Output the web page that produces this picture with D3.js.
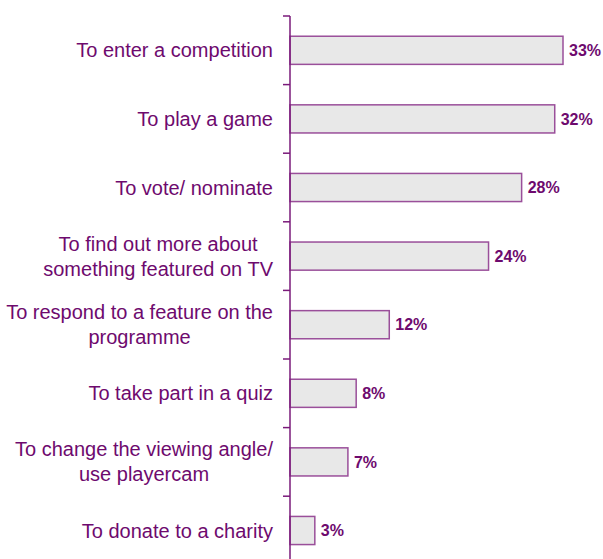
<!DOCTYPE html>
<html>
<head>
<meta charset="utf-8">
<script src="https://cdn.jsdelivr.net/npm/d3@7"></script>
<style>
  body { margin: 0; background: #fff; }
  text { font-family: "Liberation Sans", Arial, sans-serif; }
</style>
</head>
<body>
<svg id="chart"></svg>
<script>
var width = 603;
var height = 559;
var purple = "#6e0a6e";

var categories = [
    ["To enter a competition"],
    ["To play a game"],
    ["To vote/ nominate"],
    ["To find out more about", "something featured on TV"],
    ["To respond to a feature on the", "programme"],
    ["To take part in a quiz"],
    ["To change the viewing angle/", "use playercam"],
    ["To donate to a charity"]
];
var values = [33, 32, 28, 24, 12, 8, 7, 3];

var axisX = 290;
var topY = 16;
var step = 68.6;

var svg = d3.select("#chart").attr("width", width).attr("height", height);

var x = d3.scaleLinear().domain([0, 33]).range([axisX, 563]);
var y = d3.scaleBand()
    .domain(d3.range(categories.length))
    .range([topY, topY + step * categories.length])
    .paddingInner(0.59)
    .paddingOuter(0.295);

// bars
svg.selectAll("rect.bar")
    .data(values)
    .enter()
    .append("rect")
    .attr("class", "bar")
    .attr("x", x(0))
    .attr("y", function (d, i) { return y(i); })
    .attr("width", function (d) { return x(d) - x(0); })
    .attr("height", y.bandwidth())
    .attr("fill", "#e8e8e8")
    .attr("stroke", "#9a4f9a")
    .attr("stroke-width", 1.5);

// axis line and ticks at category boundaries
svg.append("line")
    .attr("x1", axisX).attr("x2", axisX)
    .attr("y1", topY).attr("y2", height)
    .attr("stroke", "#7a1a7a").attr("stroke-width", 1.5);

svg.selectAll("line.tick")
    .data(d3.range(categories.length))
    .enter()
    .append("line")
    .attr("class", "tick")
    .attr("x1", axisX - 7).attr("x2", axisX)
    .attr("y1", function (d, i) { return topY + i * step; })
    .attr("y2", function (d, i) { return topY + i * step; })
    .attr("stroke", "#7a1a7a").attr("stroke-width", 1.5);

// value labels
svg.selectAll("text.val")
    .data(values)
    .enter()
    .append("text")
    .attr("class", "val")
    .attr("x", function (d) { return x(d) + 6; })
    .attr("y", function (d, i) { return y(i) + y.bandwidth() / 2; })
    .attr("dy", "0.35em")
    .attr("fill", purple)
    .attr("font-size", 16)
    .attr("font-weight", "bold")
    .text(function (d) { return d + "%"; });

// category labels: lines centred on each other, block right-aligned
var labels = svg.selectAll("g.lab")
    .data(categories)
    .enter()
    .append("g")
    .attr("class", "lab");

labels.each(function (lines, i) {
    var g = d3.select(this);
    var cy = y(i) + y.bandwidth() / 2;
    var lh = 25;
    var ts = lines.map(function (l, j) {
        return g.append("text")
            .attr("y", cy + (j - (lines.length - 1) / 2) * lh)
            .attr("dy", "0.35em")
            .attr("fill", purple)
            .attr("font-size", 20)
            .text(l);
    });
    var maxW = d3.max(ts, function (t) { return t.node().getComputedTextLength(); });
    var cx = 273 - maxW / 2;
    ts.forEach(function (t) { t.attr("x", cx).attr("text-anchor", "middle"); });
});
</script>
</body>
</html>
